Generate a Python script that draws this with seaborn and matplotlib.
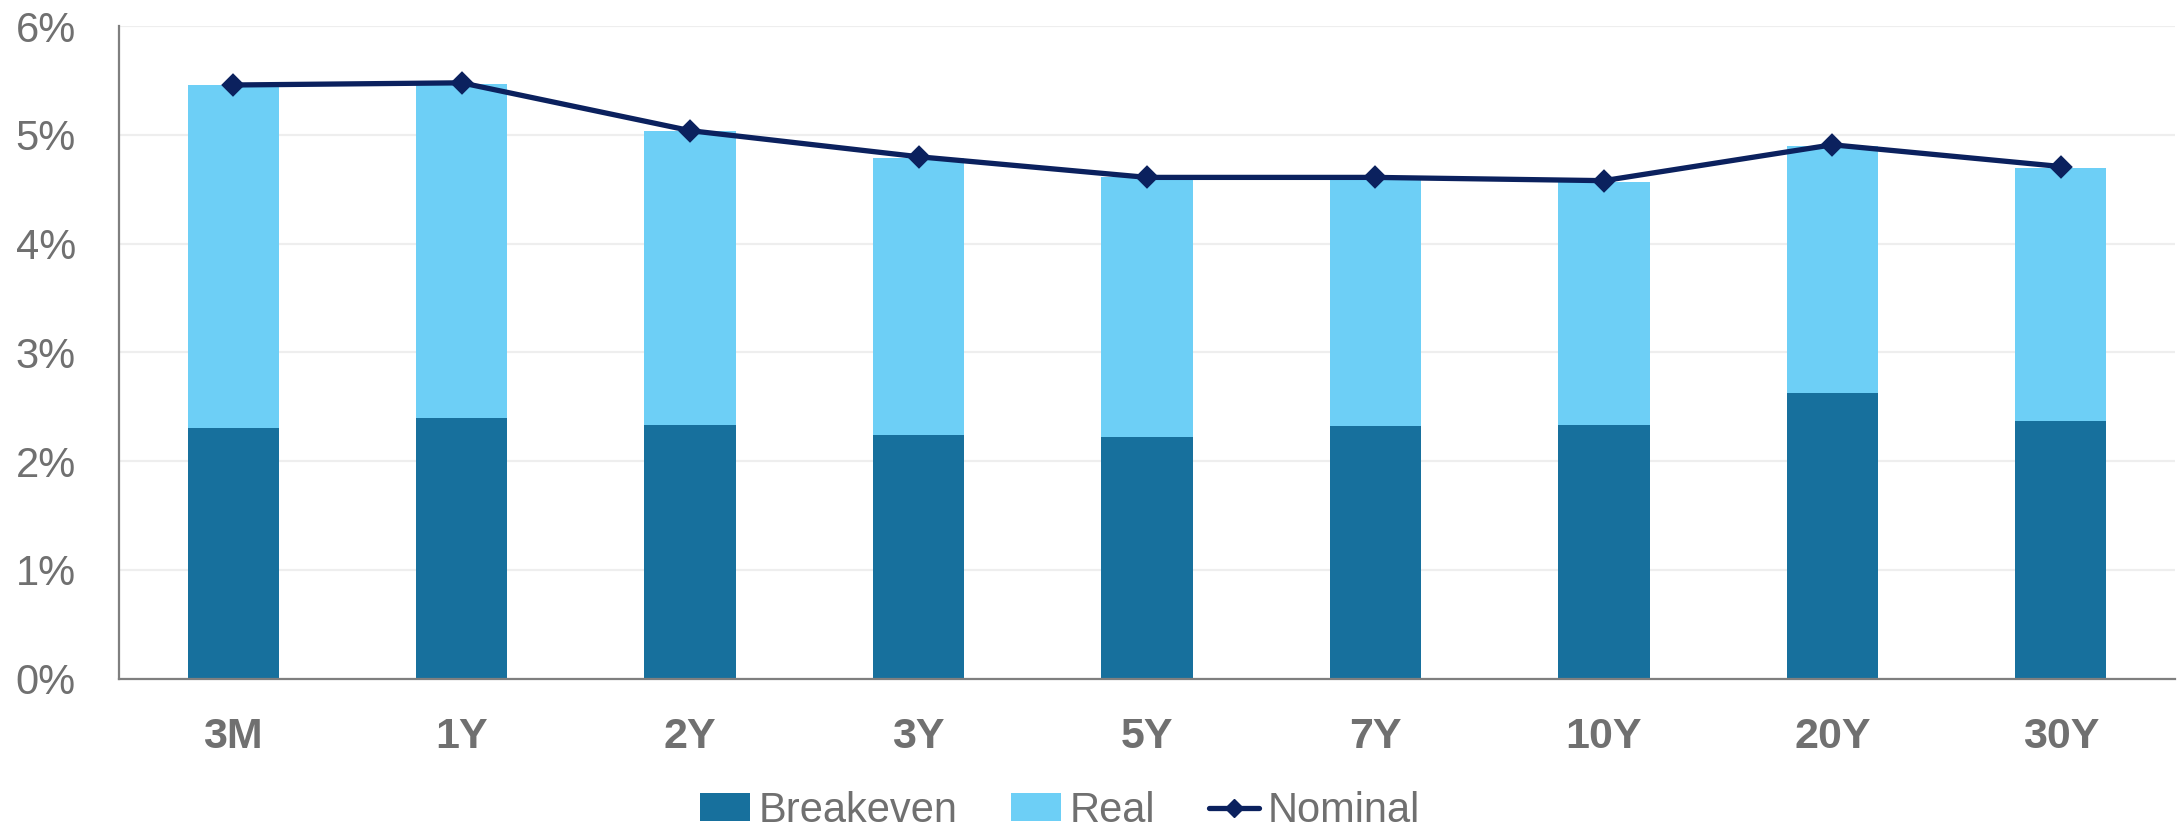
import matplotlib
matplotlib.use("Agg")
import matplotlib.pyplot as plt
import seaborn as sns
import numpy as np
from matplotlib.patches import Patch
from matplotlib.lines import Line2D
from matplotlib.ticker import FuncFormatter, MultipleLocator

# ---- data (in %) ----
tenors = ["3M", "1Y", "2Y", "3Y", "5Y", "7Y", "10Y", "20Y", "30Y"]
breakeven = [2.30, 2.40, 2.33, 2.24, 2.22, 2.32, 2.33, 2.63, 2.37]
real = [3.16, 3.07, 2.71, 2.55, 2.39, 2.28, 2.24, 2.27, 2.33]
nominal = [5.46, 5.48, 5.04, 4.80, 4.61, 4.61, 4.58, 4.91, 4.71]

totals = [b + r for b, r in zip(breakeven, real)]

C_BE = "#17709d"
C_REAL = "#6dcff6"
C_NOM = "#0b215e"
C_TEXT = "#707070"

sns.set_theme(style="white")
plt.rcParams["font.family"] = ["Liberation Sans", "DejaVu Sans"]

fig = plt.figure(figsize=(21.82, 8.32), dpi=100)
ax = fig.add_axes([119 / 2182, 1 - 678.5 / 832, (2175 - 119) / 2182, (678.5 - 26.3) / 832])

sns.barplot(x=tenors, y=totals, order=tenors, color=C_REAL, saturation=1,
            width=0.4, ax=ax, zorder=2, linewidth=0)
sns.barplot(x=tenors, y=breakeven, order=tenors, color=C_BE, saturation=1,
            width=0.4, ax=ax, zorder=3, linewidth=0)
sns.pointplot(x=tenors, y=nominal, order=tenors, color=C_NOM, markers="D",
              errorbar=None, ax=ax, zorder=5, markersize=9, linewidth=3.8)

ax.set_xlim(-0.5, len(tenors) - 0.5)
ax.set_ylim(0, 6)
ax.yaxis.set_major_locator(MultipleLocator(1))
ax.yaxis.set_major_formatter(FuncFormatter(lambda v, p: f"{v:.0f}%"))
ax.set_xlabel("")
ax.set_ylabel("")

ax.grid(axis="y", color="#eeeeee", linewidth=1.6, zorder=0)
ax.set_axisbelow(True)
for s in ["top", "right"]:
    ax.spines[s].set_visible(False)
for s in ["left", "bottom"]:
    ax.spines[s].set_color("#7f7f7f")
    ax.spines[s].set_linewidth(1.6)
    ax.spines[s].set_zorder(6)

ax.tick_params(axis="y", length=0, pad=31, labelsize=30, labelcolor=C_TEXT)
ax.tick_params(axis="x", length=0, pad=28, labelsize=31, labelcolor=C_TEXT)
for lab in ax.get_xticklabels():
    lab.set_fontweight("bold")

handles = [
    Patch(facecolor=C_BE, edgecolor="none"),
    Patch(facecolor=C_REAL, edgecolor="none"),
    Line2D([0], [0], color=C_NOM, linewidth=3.8, marker="D", markersize=9),
]
labels = ["Breakeven", "Real", "Nominal"]
leg = fig.legend(handles, labels, loc="center", bbox_to_anchor=(1060 / 2182, 1 - 811 / 832),
                 ncol=3, frameon=False, fontsize=30, handlelength=1.2, handleheight=0.65,
                 handletextpad=0.2, columnspacing=1.3)
for t in leg.get_texts():
    t.set_color(C_TEXT)

fig.savefig("out.png", dpi=100)
